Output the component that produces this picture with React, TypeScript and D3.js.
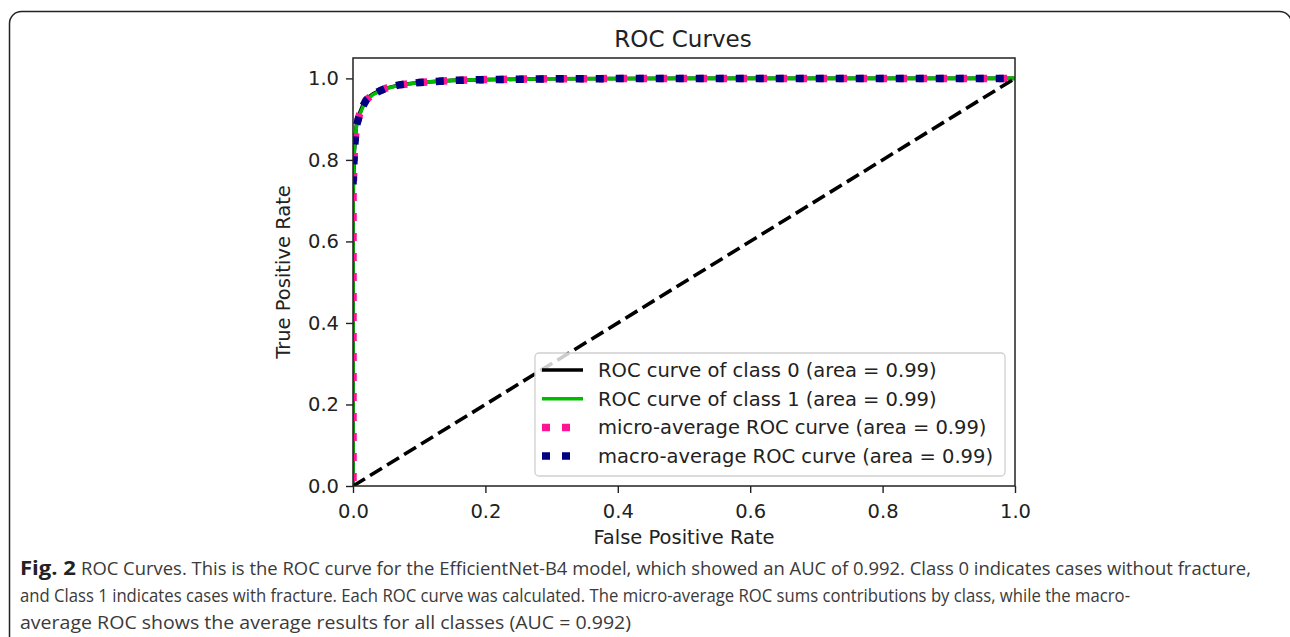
import React, { useRef, useEffect } from "react";
import { select, scaleLinear, line, axisBottom, axisLeft, format } from "d3";

// ROC points
const class0Fpr = [0, 0, 0.002, 0.005, 0.01, 0.015, 0.02, 0.03, 0.04, 0.05, 0.07, 0.1, 0.15, 0.2, 0.3, 0.5, 1];
const class0Tpr = [0, 0.7, 0.82, 0.885, 0.915, 0.935, 0.95, 0.962, 0.97, 0.976, 0.984, 0.99, 0.995, 0.997, 0.999, 1, 1];
const class1Fpr = [0, 0, 0.002, 0.005, 0.01, 0.015, 0.02, 0.03, 0.04, 0.05, 0.07, 0.1, 0.15, 0.2, 0.3, 0.5, 1];
const class1Tpr = [0, 0.72, 0.83, 0.88, 0.91, 0.93, 0.945, 0.96, 0.968, 0.975, 0.983, 0.99, 0.995, 0.997, 0.999, 1, 1];
const microFpr = [0, 0, 0.002, 0.005, 0.01, 0.015, 0.02, 0.03, 0.04, 0.05, 0.07, 0.1, 0.15, 0.2, 0.3, 0.5, 1];
const microTpr = [0, 0.71, 0.825, 0.882, 0.912, 0.932, 0.947, 0.961, 0.969, 0.976, 0.984, 0.99, 0.995, 0.997, 0.999, 1, 1];
const macroFpr = [0, 0.002, 0.005, 0.01, 0.015, 0.02, 0.03, 0.04, 0.05, 0.07, 0.1, 0.15, 0.2, 0.3, 0.5, 1];
const macroTpr = [0.74, 0.825, 0.882, 0.912, 0.932, 0.947, 0.961, 0.969, 0.976, 0.984, 0.99, 0.995, 0.997, 0.999, 1, 1];

const legendLabels = [
  "ROC curve of class 0 (area = 0.99)",
  "ROC curve of class 1 (area = 0.99)",
  "micro-average ROC curve (area = 0.99)",
  "macro-average ROC curve (area = 0.99)",
];
const tickValues = [0, 0.2, 0.4, 0.6, 0.8, 1.0];

const captionBold = "Fig. 2";
const captionLines = [
  "ROC Curves. This is the ROC curve for the EfficientNet-B4 model, which showed an AUC of 0.992. Class 0 indicates cases without fracture,",
  "and Class 1 indicates cases with fracture. Each ROC curve was calculated. The micro-average ROC sums contributions by class, while the macro-",
  "average ROC shows the average results for all classes (AUC = 0.992)",
];

const series = [
  { fpr: class0Fpr, tpr: class0Tpr, color: "#000000", width: 3.6, dash: null, offset: 0 },
  { fpr: class1Fpr, tpr: class1Tpr, color: "#00bb00", width: 3.6, dash: null, offset: 0 },
  { fpr: microFpr, tpr: microTpr, color: "#ff1493", width: 7.5, dash: "8 12", offset: -5 },
  { fpr: macroFpr, tpr: macroTpr, color: "#000080", width: 7.5, dash: "8 12", offset: 0 },
];

const W = 1290;
const H = 637;
const left = 353;
const right = 1015;
const top = 58;
const bottom = 486;
const font = "'DejaVu Sans', sans-serif";
const capFont = "'Open Sans', Lato, sans-serif";

export default function App() {
  const xAxisRef = useRef(null);
  const yAxisRef = useRef(null);

  const x = scaleLinear().domain([0, 1]).range([left, right]);
  const y = scaleLinear().domain([0, 1.05]).range([bottom, top]);

  useEffect(() => {
    const xa = select(xAxisRef.current);
    xa.call(axisBottom(x).tickValues(tickValues).tickFormat(format(".1f")).tickSize(7).tickSizeOuter(0).tickPadding(6));
    xa.select(".domain").remove();
    xa.selectAll("line").attr("stroke", "#222").attr("stroke-width", 1.4);
    xa.selectAll("text").attr("font-family", font).attr("font-size", 19.5).attr("fill", "#222").attr("dy", "0.95em");

    const ya = select(yAxisRef.current);
    ya.call(axisLeft(y).tickValues(tickValues).tickFormat(format(".1f")).tickSize(7).tickSizeOuter(0).tickPadding(7));
    ya.select(".domain").remove();
    ya.selectAll("line").attr("stroke", "#222").attr("stroke-width", 1.4);
    ya.selectAll("text").attr("font-family", font).attr("font-size", 19.5).attr("fill", "#222");
  }, []);

  const makeLine = (fpr, tpr) =>
    line()
      .x((d) => x(d[0]))
      .y((d) => y(d[1]))(fpr.map((f, i) => [f, tpr[i]]));

  const legX = 535;
  const legY = 353;
  const legW = 470;
  const legH = 123;
  const rowY = (i) => 370 + i * 28.7;

  return (
    <svg width={W} height={H} style={{ position: "absolute", left: 0, top: 0, background: "#fff" }}>
      <rect x={9.5} y={11.5} width={1282} height={700} rx={12} fill="#fff" stroke="#222" strokeWidth={1.5} />
      <defs>
        <clipPath id="plotClip">
          <rect x={left} y={top} width={right - left} height={bottom - top} />
        </clipPath>
      </defs>

      <text x={683} y={47} textAnchor="middle" fontFamily={font} fontSize={23} fill="#222">
        ROC Curves
      </text>

      <g clipPath="url(#plotClip)">
        {series.map((s, i) => (
          <path
            key={i}
            d={makeLine(s.fpr, s.tpr)}
            fill="none"
            stroke={s.color}
            strokeWidth={s.width}
            strokeDasharray={s.dash || undefined}
            strokeDashoffset={s.offset}
            strokeLinejoin="round"
          />
        ))}
        <path
          d={makeLine([0, 1], [0, 1])}
          fill="none"
          stroke="#000"
          strokeWidth={3.6}
          strokeDasharray="14 6"
        />
      </g>

      <rect x={left} y={top} width={right - left} height={bottom - top} fill="none" stroke="#222" strokeWidth={1.5} />
      <g ref={xAxisRef} transform={`translate(0,${bottom})`} />
      <g ref={yAxisRef} transform={`translate(${left},0)`} />

      <text x={684} y={544} textAnchor="middle" fontFamily={font} fontSize={19.5} fill="#222">
        False Positive Rate
      </text>
      <text
        transform={`translate(290,${(top + bottom) / 2}) rotate(-90)`}
        textAnchor="middle"
        fontFamily={font}
        fontSize={19.5}
        fill="#222"
      >
        True Positive Rate
      </text>

      {/* legend */}
      <rect x={legX} y={legY} width={legW} height={legH} rx={4} fill="#fff" fillOpacity={0.8} stroke="#d0d0d0" strokeWidth={1.3} />
      {legendLabels.map((lab, i) => (
        <g key={lab}>
          <line
            x1={542}
            x2={series[i].dash ? 576 : 583}
            y1={rowY(i)}
            y2={rowY(i)}
            stroke={series[i].color}
            strokeWidth={series[i].dash ? 7.5 : 3.6}
            strokeDasharray={series[i].dash || undefined}
          />
          <text x={598} y={rowY(i) + 7} fontFamily={font} fontSize={19.5} fill="#222">
            {lab}
          </text>
        </g>
      ))}

      {/* caption */}
      <text x={20} y={575} fontFamily={capFont} fontSize={19} fontWeight="bold" fill="#222" textLength={56} lengthAdjust="spacingAndGlyphs">
        {captionBold}
      </text>
      <text x={81} y={575} fontFamily={capFont} fontSize={19} fill="#3a3a3a" textLength={1170} lengthAdjust="spacingAndGlyphs">
        {captionLines[0]}
      </text>
      <text x={20} y={602} fontFamily={capFont} fontSize={19} fill="#3a3a3a" textLength={1110} lengthAdjust="spacingAndGlyphs">
        {captionLines[1]}
      </text>
      <text x={20} y={629} fontFamily={capFont} fontSize={19} fill="#3a3a3a" textLength={611} lengthAdjust="spacingAndGlyphs">
        {captionLines[2]}
      </text>
    </svg>
  );
}
